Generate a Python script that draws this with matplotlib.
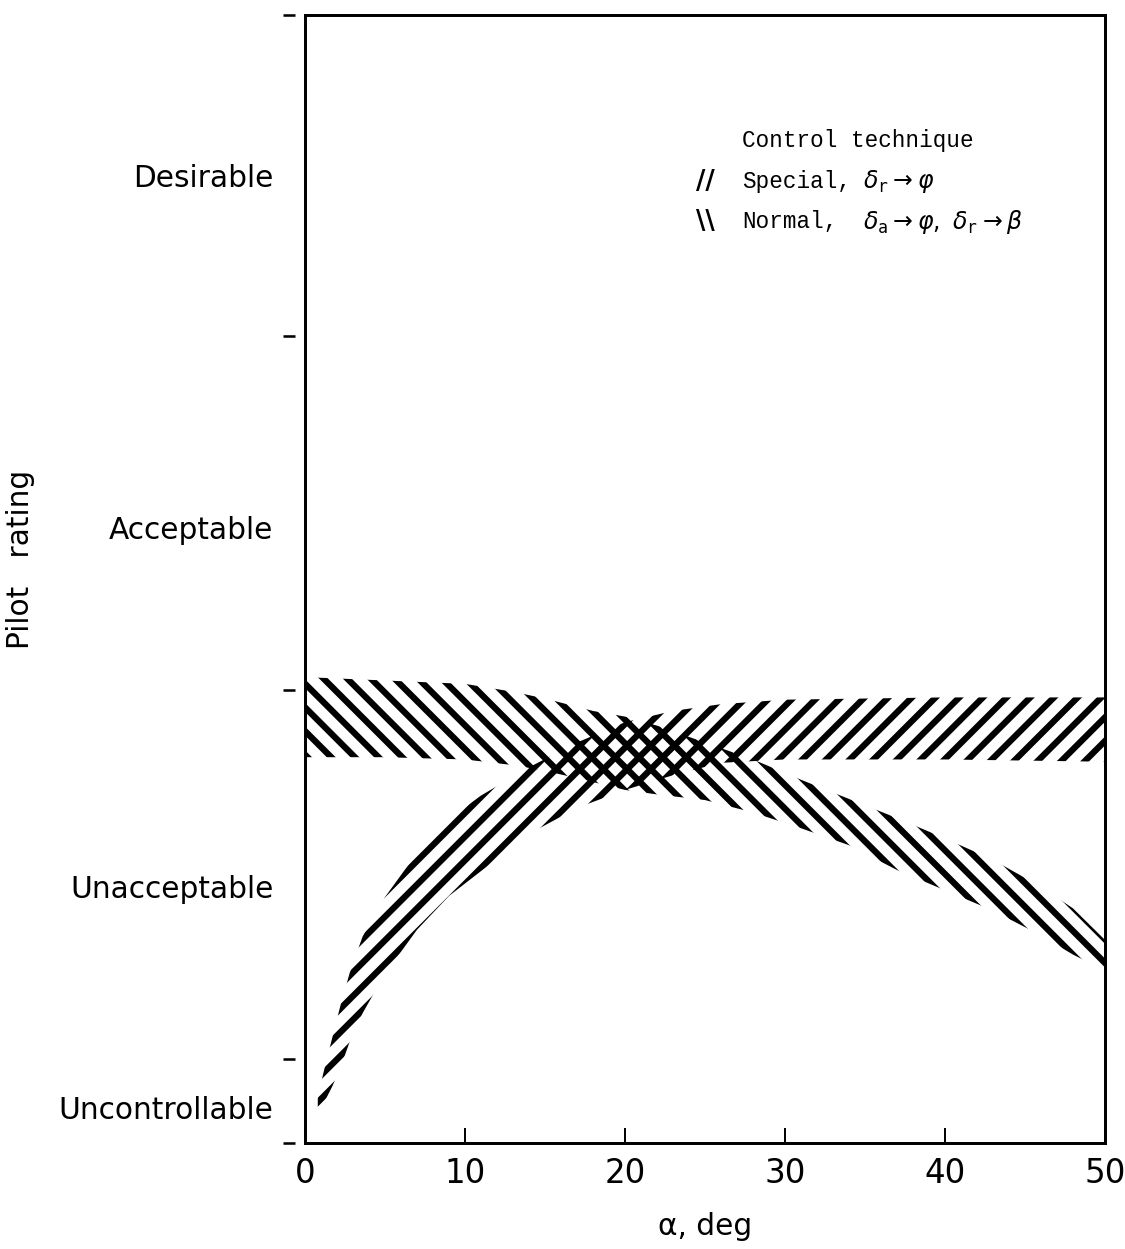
#!/usr/bin/env python3
# -*- coding: utf-8 -*-
"""
Pilot rating vs angle of attack for two control techniques
(hatched bands, special and normal).
"""

import matplotlib
matplotlib.use("Agg")
import matplotlib.pyplot as plt
from matplotlib.ticker import FixedLocator, NullFormatter


# ==========================================================
#   DATA
# ==========================================================

# normal technique band, \\ hatch
normal_alpha = [0, 5, 10, 13, 15, 18, 20, 22, 25, 28, 31, 34, 37, 40, 43, 46, 48, 50]
normal_upper = [4.13, 4.10, 4.07, 4.00, 3.94, 3.83, 3.78, 3.70, 3.55, 3.40, 3.22,
                3.05, 2.88, 2.70, 2.51, 2.27, 2.08, 1.80]
normal_lower = [3.42, 3.42, 3.40, 3.35, 3.30, 3.20, 3.13, 3.09, 3.04, 2.93, 2.79,
                2.64, 2.42, 2.24, 2.06, 1.84, 1.67, 1.53]

# special technique band, // hatch
special_alpha = [0.8, 1.2, 1.7, 2.2, 2.8, 3.6, 5, 7, 9, 11, 14, 17, 20, 23, 26, 30, 40, 50]
special_upper = [0.41, 0.65, 0.93, 1.21, 1.51, 1.83, 2.18, 2.57, 2.87, 3.08, 3.33,
                 3.55, 3.73, 3.83, 3.89, 3.93, 3.95, 3.95]
special_lower = [0.28, 0.36, 0.50, 0.66, 0.90, 1.15, 1.50, 1.89, 2.19, 2.41, 2.74,
                 2.97, 3.13, 3.26, 3.37, 3.40, 3.40, 3.38]

# rating scale: boundaries between the categories and where the names sit
rating_bounds = [0, 0.74, 4.02, 7.15, 10]
rating_names = ["Uncontrollable", "Unacceptable", "Acceptable", "Desirable"]
rating_name_pos = [0.31, 2.27, 5.46, 8.58]

alpha_ticks = [0, 10, 20, 30, 40, 50]


# ==========================================================
#   PLOT
# ==========================================================

DPI = 142
plt.rcParams["font.family"] = "DejaVu Sans"
plt.rcParams["hatch.linewidth"] = 3.2

fig = plt.figure(figsize=(1125 / DPI, 1249 / DPI), dpi=DPI)
ax = fig.add_axes([0.2711, 0.0849, 0.7111, 0.9031])

ax.fill_between(special_alpha, special_lower, special_upper,
                facecolor="none", edgecolor="black", linewidth=0, hatch="//")
ax.fill_between(normal_alpha, normal_lower, normal_upper,
                facecolor="none", edgecolor="black", linewidth=0, hatch="\\\\")

ax.set_xlim(0, 50)
ax.set_ylim(0, 10)

for sp in ax.spines.values():
    sp.set_linewidth(1.5)

# x axis: ticks pointing inward
ax.set_xticks(alpha_ticks)
ax.set_xticklabels([str(t) for t in alpha_ticks])
ax.tick_params(axis="x", direction="in", length=7.5, width=1.0,
               labelsize=16.5, pad=7)

# y axis: category names between the boundaries
ax.yaxis.set_major_locator(FixedLocator(rating_bounds))
ax.yaxis.set_major_formatter(NullFormatter())
ax.yaxis.set_minor_locator(FixedLocator(rating_name_pos))
ax.set_yticklabels(rating_names, minor=True)
ax.tick_params(axis="y", which="both", length=0)
ax.tick_params(axis="y", which="minor", labelsize=15, pad=16)

# boundary marks a little away from the spine
sec = ax.secondary_yaxis(-0.0125)
sec.spines["left"].set_visible(False)
sec.set_yticks(rating_bounds)
sec.set_yticklabels([])
sec.tick_params(axis="y", direction="out", length=6, width=1.3)

ax.set_xlabel("α, deg", fontsize=15)
ax.xaxis.set_label_coords(0.5, -0.061)
ax.set_ylabel("Pilot   rating", fontsize=15)
ax.yaxis.set_label_coords(-0.3375, 0.517)

# legend
mono = "Liberation Mono"
ax.text(0.546, 0.889, "Control technique", transform=ax.transAxes,
        family=mono, fontsize=11.5, va="center", ha="left")
ax.text(0.501, 0.852, "//", transform=ax.transAxes, fontsize=13,
        fontweight="bold", va="center", ha="center")
ax.text(0.546, 0.852, "Special,", transform=ax.transAxes,
        family=mono, fontsize=11.5, va="center", ha="left")
ax.text(0.697, 0.852, r"$\delta_{\mathtt{r}} \rightarrow \varphi$",
        transform=ax.transAxes, fontsize=12, va="center", ha="left")
ax.text(0.501, 0.8165, "\\\\", transform=ax.transAxes, fontsize=13,
        fontweight="bold", va="center", ha="center")
ax.text(0.546, 0.8165, "Normal,", transform=ax.transAxes,
        family=mono, fontsize=11.5, va="center", ha="left")
ax.text(0.697, 0.8165,
        r"$\delta_{\mathtt{a}} \rightarrow \varphi,\ \delta_{\mathtt{r}} \rightarrow \beta$",
        transform=ax.transAxes, fontsize=12, va="center", ha="left")

fig.savefig("out.png", dpi=DPI)
